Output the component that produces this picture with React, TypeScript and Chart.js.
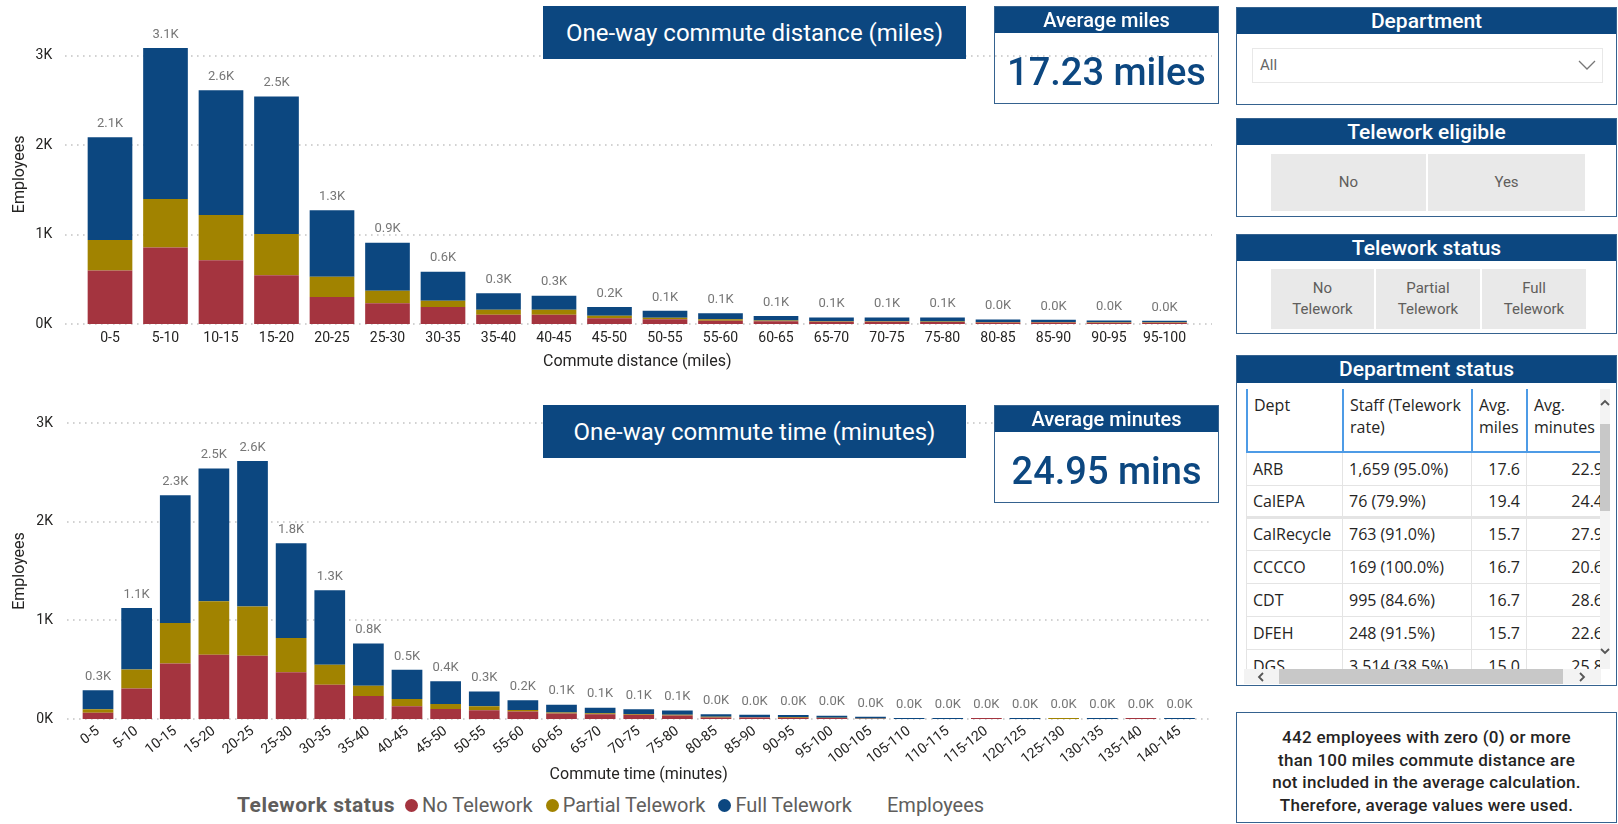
import React, { useEffect, useRef } from "react";
import { Chart, registerables } from "chart.js";
Chart.register(...registerables);

const DARK = "#0c4780";
const RED = "#a4343f";
const GOLD = "#a18300";
const BLUE = "#0c4780";
const BORDER = "#35628f";
const DIN = "Roboto, 'Liberation Sans', sans-serif";
const SEGOE = "'Open Sans', 'Noto Sans', sans-serif";

const distanceCategories = ["0-5", "5-10", "10-15", "15-20", "20-25", "25-30", "30-35", "35-40", "40-45", "45-50", "50-55", "55-60", "60-65", "65-70", "70-75", "75-80", "80-85", "85-90", "90-95", "95-100"];
const distanceNoTelework = [600, 855, 713, 545, 302, 231, 190, 104, 104, 63, 52, 37, 30, 26, 24, 22, 18, 17, 14, 14];
const distancePartialTelework = [340, 545, 507, 462, 228, 142, 71, 56, 56, 30, 19, 15, 8, 6, 8, 6, 4, 4, 6, 5];
const distanceFullTelework = [1150, 1690, 1395, 1538, 742, 537, 325, 183, 157, 97, 76, 67, 52, 42, 40, 44, 27, 26, 18, 17];

const timeCategories = ["0-5", "5-10", "10-15", "15-20", "20-25", "25-30", "30-35", "35-40", "40-45", "45-50", "50-55", "55-60", "60-65", "65-70", "70-75", "75-80", "80-85", "85-90", "90-95", "95-100", "100-105", "105-110", "110-115", "115-120", "120-125", "125-130", "130-135", "135-140", "140-145"];
const timeNoTelework = [64, 308, 563, 651, 641, 475, 346, 234, 129, 102, 88, 75, 55, 48, 42, 36, 16, 14, 12, 10, 3, 0, 0, 10, 0, 0, 0, 10, 0];
const timePartialTelework = [34, 194, 410, 542, 498, 345, 203, 102, 74, 51, 41, 17, 10, 10, 8, 8, 6, 4, 8, 3, 1, 0, 0, 0, 0, 10, 0, 0, 0];
const timeFullTelework = [194, 623, 1295, 1346, 1475, 960, 756, 430, 295, 230, 149, 98, 80, 57, 50, 42, 26, 25, 20, 20, 18, 10, 10, 0, 10, 0, 10, 0, 10];

const yTickValues = [0, 1000, 2000, 3000];

const deptNames = ["ARB", "CalEPA", "CalRecycle", "CCCCO", "CDT", "DFEH", "DGS"];
const deptStaff = ["1,659 (95.0%)", "76 (79.9%)", "763 (91.0%)", "169 (100.0%)", "995 (84.6%)", "248 (91.5%)", "3,514 (38.5%)"];
const deptMiles = ["17.6", "19.4", "15.7", "16.7", "16.7", "15.7", "15.0"];
const deptMinutes = ["22.9", "24.4", "27.9", "20.6", "28.6", "22.6", "25.8"];

type Cfg = {
  categories: string[];
  no: number[];
  partial: number[];
  full: number[];
  width: number;
  height: number;
  top: number;
  yMax: number;
  padTop: number;
  padRight: number;
  yWidth: number;
  yTickPad: number;
  xHeight: number;
  xTickPad: number;
  rotation: number;
  xTitle: string;
  barPct: number;
  gridX0: number;
  gridX1: number;
  labelGap: number;
};

function StackedChart(p: Cfg) {
  const ref = useRef<HTMLCanvasElement>(null);
  useEffect(() => {
    const gridPlugin = {
      id: "dotGrid",
      beforeDatasetsDraw(chart: any) {
        const { ctx } = chart;
        const ys = chart.scales.y;
        ctx.save();
        ctx.strokeStyle = "#c4c4c4";
        ctx.lineWidth = 1.6;
        ctx.setLineDash([1.6, 4.4]);
        yTickValues.forEach((v) => {
          const y = Math.round(ys.getPixelForValue(v));
          ctx.beginPath();
          ctx.moveTo(p.gridX0, y);
          ctx.lineTo(p.gridX1, y);
          ctx.stroke();
        });
        ctx.restore();
      },
    };
    const totalsPlugin = {
      id: "totals",
      afterDatasetsDraw(chart: any) {
        const { ctx } = chart;
        const xs = chart.scales.x;
        const ys = chart.scales.y;
        ctx.save();
        ctx.font = `13px ${DIN}`;
        ctx.fillStyle = "#767676";
        ctx.textAlign = "center";
        ctx.textBaseline = "bottom";
        p.categories.forEach((_c, i) => {
          const t = p.no[i] + p.partial[i] + p.full[i];
          ctx.fillText((t / 1000).toFixed(1) + "K", xs.getPixelForValue(i), ys.getPixelForValue(t) - p.labelGap);
        });
        ctx.restore();
      },
    };
    const chart = new Chart(ref.current as HTMLCanvasElement, {
      type: "bar",
      data: {
        labels: p.categories,
        datasets: [
          { label: "No Telework", data: p.no, backgroundColor: RED },
          { label: "Partial Telework", data: p.partial, backgroundColor: GOLD },
          { label: "Full Telework", data: p.full, backgroundColor: BLUE },
        ],
      },
      options: {
        responsive: false,
        animation: false,
        layout: { padding: { left: 0, right: p.padRight, top: p.padTop, bottom: 0 } },
        datasets: { bar: { barPercentage: p.barPct, categoryPercentage: 1, borderWidth: 0 } },
        plugins: { legend: { display: false }, tooltip: { enabled: false } },
        scales: {
          x: {
            stacked: true,
            grid: { display: false, drawTicks: false },
            border: { display: false },
            ticks: {
              autoSkip: false,
              maxRotation: p.rotation,
              minRotation: p.rotation,
              padding: p.xTickPad,
              color: "#252423",
              font: { family: DIN, size: 14 },
            },
            title: {
              display: true,
              text: p.xTitle,
              color: "#252423",
              font: { family: DIN, size: 16 },
              padding: { top: 0, bottom: 0 },
            },
            afterFit: (s: any) => {
              s.height = p.xHeight;
            },
          },
          y: {
            stacked: true,
            min: 0,
            max: p.yMax,
            grid: { display: false, drawTicks: false },
            border: { display: false },
            afterBuildTicks: (s: any) => {
              s.ticks = yTickValues.map((v) => ({ value: v }));
            },
            ticks: {
              padding: p.yTickPad,
              color: "#252423",
              font: { family: DIN, size: 14 },
              callback: (v: any) => `${Number(v) / 1000}K`,
            },
            title: {
              display: true,
              text: "Employees",
              color: "#252423",
              font: { family: DIN, size: 16 },
              padding: { top: 10, bottom: 0 },
            },
            afterFit: (s: any) => {
              s.width = p.yWidth;
              s.paddingTop = 0;
              s.paddingBottom = 0;
            },
          },
        },
      } as any,
      plugins: [gridPlugin, totalsPlugin],
    });
    return () => chart.destroy();
  }, []);
  return (
    <canvas
      ref={ref}
      width={p.width}
      height={p.height}
      style={{ position: "absolute", left: 0, top: p.top, width: p.width, height: p.height }}
    />
  );
}

function TitleBox({ top, text }: { top: number; text: string }) {
  return (
    <div
      style={{
        position: "absolute",
        left: 543,
        top,
        width: 423,
        height: 53,
        background: DARK,
        color: "#fff",
        font: `400 24px ${DIN}`,
        display: "flex",
        alignItems: "center",
        justifyContent: "center",
      }}
    >
      {text}
    </div>
  );
}

function Card({ top, title, value }: { top: number; title: string; value: string }) {
  return (
    <div
      style={{
        position: "absolute",
        left: 994,
        top,
        width: 225,
        height: 98,
        border: `1px solid ${BORDER}`,
        boxSizing: "border-box",
      }}
    >
      <div style={{ height: 26, background: DARK, color: "#fff", font: `500 20px ${DIN}`, textAlign: "center", lineHeight: "26px" }}>
        {title}
      </div>
      <div style={{ height: 70, color: DARK, font: `500 38px ${DIN}`, textAlign: "center", lineHeight: "78px" }}>{value}</div>
    </div>
  );
}

function Panel({ top, height, title, headerH, children }: any) {
  return (
    <div
      style={{
        position: "absolute",
        left: 1236,
        top,
        width: 381,
        height,
        border: `1px solid ${BORDER}`,
        boxSizing: "border-box",
      }}
    >
      <div
        style={{
          height: headerH,
          background: DARK,
          color: "#fff",
          font: `500 21px ${DIN}`,
          textAlign: "center",
          lineHeight: headerH + "px",
        }}
      >
        {title}
      </div>
      {children}
    </div>
  );
}

function Btn({ left, top, width, height, lines }: any) {
  return (
    <div
      style={{
        position: "absolute",
        left,
        top,
        width,
        height,
        background: "#e9e9e9",
        color: "#605e5c",
        font: `400 15px ${DIN}`,
        display: "flex",
        flexDirection: "column",
        alignItems: "center",
        justifyContent: "center",
        lineHeight: "21px",
      }}
    >
      {lines.map((l: string) => (
        <div key={l}>{l}</div>
      ))}
    </div>
  );
}

function Chev({ x, y, dir }: { x: number; y: number; dir: string }) {
  const pts: Record<string, string> = {
    up: "1,6 5,2 9,6",
    down: "1,2 5,6 9,2",
    left: "6,1 2,5 6,9",
    right: "2,1 6,5 2,9",
  };
  return (
    <svg style={{ position: "absolute", left: x - 5, top: y - 5 }} width={10} height={10}>
      <polyline points={pts[dir]} fill="none" stroke="#555" strokeWidth={1.8} />
    </svg>
  );
}

function DeptTable() {
  const cols = [96, 129, 55, 80];
  const headerBlue = "#4d9be6";
  const hdrLines = [["Dept"], ["Staff (Telework", "rate)"], ["Avg.", "miles"], ["Avg.", "minutes"]];
  const rowH = 32.8;
  let x = 0;
  const colX = cols.map((w) => {
    const r = x;
    x += w;
    return r;
  });
  return (
    <div style={{ position: "absolute", left: 9, top: 33, width: 354, height: 280, overflow: "hidden", color: "#252423", font: `400 16px ${SEGOE}` }}>
      {hdrLines.map((h, i) => (
        <div
          key={i}
          style={{
            position: "absolute",
            left: colX[i],
            top: 0,
            width: cols[i],
            height: 62,
            borderLeft: `2px solid ${headerBlue}`,
            boxSizing: "border-box",
            padding: "5px 0 0 6px",
            lineHeight: "22px",
            whiteSpace: "nowrap",
          }}
        >
          {h.map((l) => (
            <div key={l}>{l}</div>
          ))}
        </div>
      ))}
      <div style={{ position: "absolute", left: 0, top: 62, width: 360, height: 2, background: headerBlue }} />
      {deptNames.map((d, r) => {
        const top = 64 + r * rowH;
        const vals = [d, deptStaff[r], deptMiles[r], deptMinutes[r]];
        return vals.map((v, i) => (
          <div
            key={d + i}
            style={{
              position: "absolute",
              left: colX[i],
              top,
              width: cols[i],
              height: rowH,
              borderLeft: "1.5px solid #e4e4e4",
              borderBottom: r === 1 ? "3px solid #e4e4e4" : "1.5px solid #e4e4e4",
              boxSizing: "border-box",
              display: "flex",
              alignItems: "center",
              justifyContent: i >= 2 ? "flex-end" : "flex-start",
              padding: i >= 2 ? (i === 3 ? "0 3px 0 0" : "0 6px 0 0") : "0 0 0 6px",
              whiteSpace: "nowrap",
            }}
          >
            {v}
          </div>
        ));
      })}
    </div>
  );
}

export default function App() {
  const distCfg: Cfg = {
    categories: distanceCategories,
    no: distanceNoTelework,
    partial: distancePartialTelework,
    full: distanceFullTelework,
    width: 1225,
    height: 372,
    top: 0,
    yMax: 3350,
    padTop: 24.7,
    padRight: 32.75,
    yWidth: 82.25,
    yTickPad: 30,
    xHeight: 48,
    xTickPad: 6,
    rotation: 0,
    xTitle: "Commute distance (miles)",
    barPct: 0.805,
    gridX0: 65,
    gridX1: 1212,
    labelGap: 7,
  };
  const timeCfg: Cfg = {
    categories: timeCategories,
    no: timeNoTelework,
    partial: timePartialTelework,
    full: timeFullTelework,
    width: 1225,
    height: 405,
    top: 380,
    yMax: 3000,
    padTop: 43,
    padRight: 26.2,
    yWidth: 78.7,
    yTickPad: 25.7,
    xHeight: 66,
    xTickPad: 4,
    rotation: 38,
    xTitle: "Commute time (minutes)",
    barPct: 0.795,
    gridX0: 67,
    gridX1: 1212,
    labelGap: 7,
  };
  const legendItems = [
    { label: "No Telework", color: RED },
    { label: "Partial Telework", color: GOLD },
    { label: "Full Telework", color: BLUE },
  ];
  return (
    <div style={{ position: "fixed", left: 0, top: 0, width: 1618, height: 824, background: "#fff", overflow: "hidden" }}>
      <StackedChart {...distCfg} />
      <StackedChart {...timeCfg} />
      <TitleBox top={6} text="One-way commute distance (miles)" />
      <TitleBox top={405} text="One-way commute time (minutes)" />
      <Card top={6} title="Average miles" value="17.23 miles" />
      <Card top={405} title="Average minutes" value="24.95 mins" />

      <Panel top={7} height={98} title="Department" headerH={26}>
        <div
          style={{
            position: "absolute",
            left: 15,
            top: 40,
            width: 351,
            height: 35,
            border: "1.5px solid #e8e8e8",
            boxSizing: "border-box",
            color: "#666",
            font: `400 15px ${DIN}`,
            lineHeight: "32px",
            paddingLeft: 7,
          }}
        >
          All
          <svg style={{ position: "absolute", right: 6, top: 10 }} width={18} height={12}>
            <polyline points="1,2 9,10 17,2" fill="none" stroke="#777" strokeWidth={1.3} />
          </svg>
        </div>
      </Panel>

      <Panel top={118} height={99} title="Telework eligible" headerH={26}>
        <Btn left={34} top={35} width={155} height={57} lines={["No"]} />
        <Btn left={191} top={35} width={157} height={57} lines={["Yes"]} />
      </Panel>

      <Panel top={234} height={100} title="Telework status" headerH={26}>
        <Btn left={34} top={34} width={103} height={60} lines={["No", "Telework"]} />
        <Btn left={139} top={34} width={104} height={60} lines={["Partial", "Telework"]} />
        <Btn left={245} top={34} width={104} height={60} lines={["Full", "Telework"]} />
      </Panel>

      <Panel top={355} height={331} title="Department status" headerH={27}>
        <DeptTable />
        <div style={{ position: "absolute", left: 363, top: 33, width: 10, height: 280, background: "#f3f3f3" }} />
        <div style={{ position: "absolute", left: 363, top: 68, width: 10, height: 87, background: "#c8c8c8" }} />
        <Chev x={368} y={48} dir="up" />
        <Chev x={368} y={296} dir="down" />
        <div style={{ position: "absolute", left: 7, top: 313, width: 357, height: 15, background: "#f3f3f3" }} />
        <div style={{ position: "absolute", left: 42, top: 313, width: 284, height: 15, background: "#c8c8c8" }} />
        <Chev x={25} y={321} dir="left" />
        <Chev x={346} y={321} dir="right" />
      </Panel>

      <div
        style={{
          position: "absolute",
          left: 1236,
          top: 712,
          width: 381,
          height: 111,
          border: `1px solid ${BORDER}`,
          boxSizing: "border-box",
          textAlign: "center",
          color: "#252423",
          font: `500 17px ${DIN}`,
          lineHeight: "22.5px",
          paddingTop: 13,
          letterSpacing: 0.3,
        }}
      >
        <div>442 employees with zero (0) or more</div>
        <div>than 100 miles commute distance are</div>
        <div>not included in the average calculation.</div>
        <div>Therefore, average values were used.</div>
      </div>

      <div
        style={{
          position: "absolute",
          left: 237,
          top: 793,
          height: 24,
          display: "flex",
          alignItems: "center",
          font: `400 20px ${DIN}`,
          color: "#605e5c",
          whiteSpace: "nowrap",
        }}
      >
        <span style={{ fontWeight: 700, fontSize: 21, letterSpacing: 0.5, marginRight: 10 }}>Telework status</span>
        {legendItems.map((it) => (
          <span key={it.label} style={{ display: "flex", alignItems: "center", marginRight: 13 }}>
            <span style={{ width: 13, height: 13, borderRadius: 7, background: it.color, marginRight: 4, display: "inline-block" }} />
            {it.label}
          </span>
        ))}
        <span style={{ marginLeft: 22 }}>Employees</span>
      </div>
    </div>
  );
}
